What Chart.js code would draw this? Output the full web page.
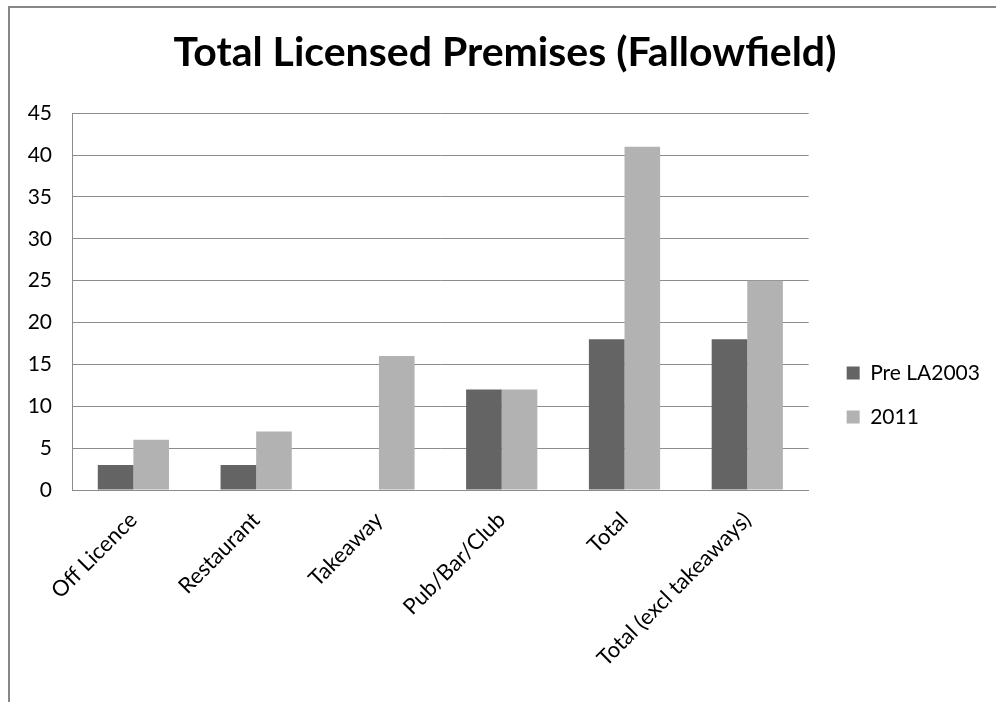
<!DOCTYPE html>
<html>
<head>
<meta charset="utf-8">
<title>Total Licensed Premises (Fallowfield)</title>
<script src="https://cdn.jsdelivr.net/npm/chart.js@4.4.1/dist/chart.umd.min.js"></script>
<style>
    html, body { margin: 0; padding: 0; background: #ffffff; overflow: hidden; }
    /* Marco gris del gráfico (solo se ven los bordes izquierdo y superior) */
    #marco {
        position: absolute; left: 8px; top: 6px; width: 1100px; height: 900px;
        border-left: 2px solid #878787; border-top: 2px solid #878787;
    }
    #contenedor { position: absolute; left: 10px; top: 8px; width: 990px; height: 790px; }
</style>
</head>
<body>
<div id="marco"></div>
<div id="contenedor"><canvas id="grafico-locales"></canvas></div>
<script>
// Categorías del eje X
const categorias = ['Off Licence', 'Restaurant', 'Takeaway', 'Pub/Bar/Club', 'Total', 'Total (excl takeaways)'];
// Locales con licencia antes de la LA2003
const preLA2003 = [3, 3, 0, 12, 18, 18];
// Locales con licencia en 2011
const datos2011 = [6, 7, 16, 12, 41, 25];
// Escala del eje Y
const ejeYMin = 0;
const ejeYMax = 45;
const ejeYPaso = 5;

document.addEventListener("DOMContentLoaded", function() {
    Chart.defaults.font.family = 'Lato, "Open Sans", sans-serif';
    Chart.defaults.color = '#000000';

    const ctx = document.getElementById('grafico-locales');

    new Chart(ctx, {
        type: 'bar',
        data: {
            labels: categorias,
            datasets: [{
                label: 'Pre LA2003',
                data: preLA2003,
                backgroundColor: '#646464',
                borderWidth: 0
            }, {
                label: '2011',
                data: datos2011,
                backgroundColor: '#b2b2b2',
                borderWidth: 0
            }]
        },
        options: {
            responsive: true,
            maintainAspectRatio: false,
            animation: false,
            layout: {
                padding: { top: 0, left: 17, right: 17, bottom: 16 }
            },
            datasets: {
                bar: { categoryPercentage: 0.58, barPercentage: 1.0 }
            },
            plugins: {
                title: {
                    display: true,
                    text: 'Total Licensed Premises (Fallowfield)',
                    font: { size: 41, weight: 'bold' },
                    color: '#000000',
                    padding: { top: 20, bottom: 36 }
                },
                legend: {
                    position: 'right',
                    labels: {
                        boxWidth: 13,
                        boxHeight: 13,
                        padding: 23,
                        font: { size: 21 },
                        color: '#000000'
                    }
                },
                tooltip: { enabled: false }
            },
            scales: {
                x: {
                    grid: { display: false },
                    border: { display: true, color: '#8c8c8c', width: 1 },
                    ticks: {
                        autoSkip: false,
                        minRotation: 45,
                        maxRotation: 45,
                        padding: 9,
                        font: { size: 22 }
                    },
                    // Espacio bajo las etiquetas hasta el borde del gráfico
                    afterFit: function(escala) { escala.height = 292; }
                },
                y: {
                    min: ejeYMin,
                    max: ejeYMax,
                    grid: { color: '#8c8c8c', lineWidth: 1, drawTicks: false },
                    border: { display: true, color: '#8c8c8c', width: 1 },
                    ticks: {
                        stepSize: ejeYPaso,
                        padding: 20,
                        font: { size: 21 }
                    },
                    afterFit: function(escala) { escala.width = 45; }
                },
                // Eje vacío que separa el área de trazado de la leyenda
                separador: {
                    type: 'linear',
                    position: 'right',
                    display: true,
                    grid: { display: false },
                    border: { display: false },
                    ticks: { display: false },
                    afterFit: function(escala) { escala.width = 15; }
                }
            }
        }
    });
});
</script>
</body>
</html>
